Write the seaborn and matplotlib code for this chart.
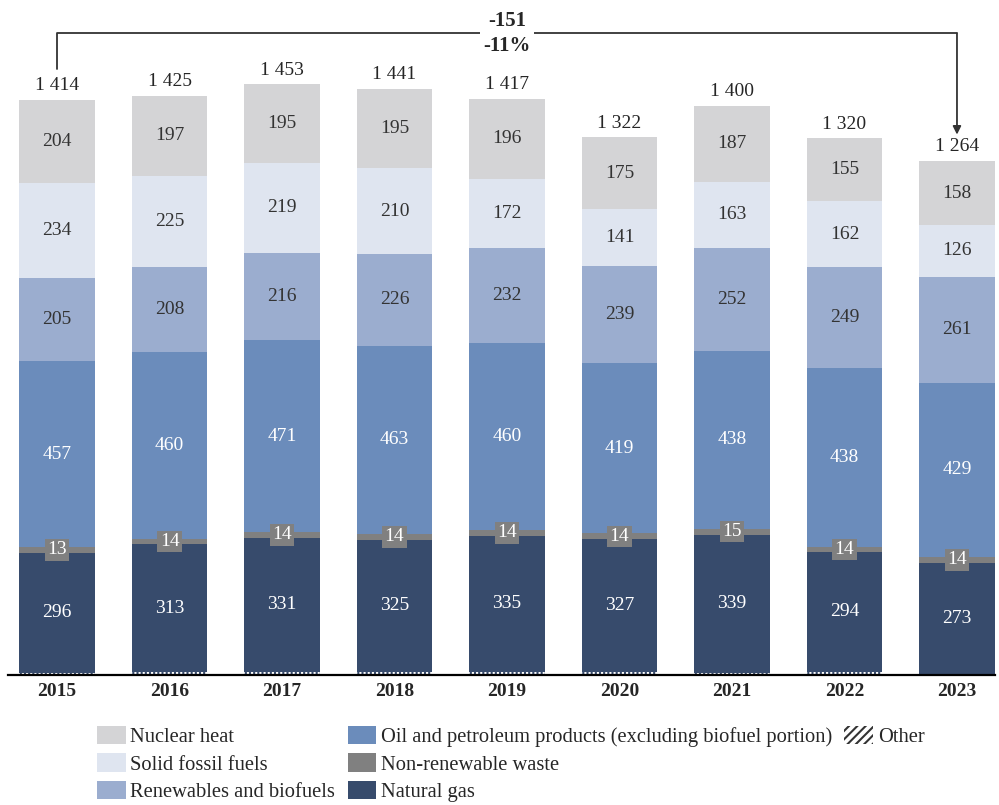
"""Stacked bars of energy use by source, 2015-2023, with seaborn."""
import matplotlib
matplotlib.use('Agg')
import matplotlib.pyplot as plt
from matplotlib.patches import Patch
import numpy as np
import pandas as pd
import seaborn as sns

# data (bottom to top of each bar)
years = ['2015', '2016', '2017', '2018', '2019', '2020', '2021', '2022', '2023']
other = [5, 8, 7, 8, 8, 7, 6, 8, 3]
natural_gas = [296, 313, 331, 325, 335, 327, 339, 294, 273]
waste = [13, 14, 14, 14, 14, 14, 15, 14, 14]
oil = [457, 460, 471, 463, 460, 419, 438, 438, 429]
renewables = [205, 208, 216, 226, 232, 239, 252, 249, 261]
solid_fossil = [234, 225, 219, 210, 172, 141, 163, 162, 126]
nuclear = [204, 197, 195, 195, 196, 175, 187, 155, 158]
totals = [1414, 1425, 1453, 1441, 1417, 1322, 1400, 1320, 1264]
change = -151
change_pct = -11

series = ['Other', 'Natural gas', 'Non-renewable waste',
          'Oil and petroleum products (excluding biofuel portion)',
          'Renewables and biofuels', 'Solid fossil fuels', 'Nuclear heat']
values = [other, natural_gas, waste, oil, renewables, solid_fossil, nuclear]
colors = ['#374b6c', '#374b6c', '#808080', '#6b8cbb', '#9badcf', '#dfe5f0', '#d4d4d6']
text_colors = [None, 'white', 'white', 'white', '#333333', '#333333', '#333333']

df = pd.DataFrame(dict(zip(series, values)), index=years)
cum = df.cumsum(axis=1)

sns.set_style('white')
plt.rcParams['font.family'] = ['Liberation Serif', 'DejaVu Serif']
plt.rcParams['hatch.linewidth'] = 1.5

fig = plt.figure(figsize=(9.99, 8.05), dpi=100)
ax = fig.add_axes([8 / 999, 130 / 805, 987 / 999, 675 / 805])

# draw cumulative bars from top down so each layer covers the one above
for i in range(len(series) - 1, -1, -1):
    name = series[i]
    kw = dict(linewidth=0)
    if name == 'Other':
        kw = dict(hatch='||||', edgecolor='white', linewidth=0)
    sns.barplot(x=years, y=cum[name].values, color=colors[i], width=0.67,
                saturation=1, ax=ax, **kw)

# segment labels
for i, name in enumerate(series):
    if name == 'Other':
        continue
    for j, yr in enumerate(years):
        v = df.loc[yr, name]
        mid = cum.loc[yr, name] - v / 2
        if name == 'Non-renewable waste':
            ax.text(j, mid, f'{v}', ha='center', va='center', fontsize=14,
                    color='white',
                    bbox=dict(boxstyle='square,pad=0.12', fc='#808080', ec='none'))
        else:
            ax.text(j, mid, f'{v}', ha='center', va='center', fontsize=14,
                    color=text_colors[i])

# totals above bars
for j, t in enumerate(totals):
    ax.annotate(f'{t:,}'.replace(',', ' '), (j, t), xytext=(0, 4),
                textcoords='offset points', ha='center', va='bottom', fontsize=14)

# change bracket from first to last year
top = 1578
ax.plot([0, 0, len(years) - 1], [totals[0] + 76, top, top], color='#333333', lw=1.3)
ax.annotate('', xy=(len(years) - 1, totals[-1] + 65), xytext=(len(years) - 1, top),
            arrowprops=dict(arrowstyle='-|>', color='#333333', lw=1.3,
                            shrinkA=0, shrinkB=0, mutation_scale=12))
ax.text((len(years) - 1) / 2, top, f'{change}\n{change_pct}%', ha='center',
        va='center', fontsize=15, fontweight='bold', linespacing=1.3,
        bbox=dict(boxstyle='square,pad=0.15', fc='white', ec='none'))

ax.set_ylim(0, 1660)
ax.set_xlim(-0.436, 8.338)
ax.set_yticks([])
ax.set_ylabel('')
ax.tick_params(axis='x', length=0, pad=6)
for lab in ax.get_xticklabels():
    lab.set_fontweight('bold')
    lab.set_fontsize(14)
for s in ['top', 'right', 'left']:
    ax.spines[s].set_visible(False)
ax.spines['bottom'].set_color('black')
ax.spines['bottom'].set_linewidth(1.6)

# legend: three columns, the last one holds only "Other"
order = [6, 5, 4, 3, 2, 1]
handles = [Patch(facecolor=colors[i], edgecolor='none', label=series[i]) for i in order]
handles.append(Patch(facecolor='white', edgecolor='#333333', linewidth=0,
                     hatch='////', label='Other'))
handles += [Patch(visible=False, label=' '), Patch(visible=False, label=' ')]
fig.legend(handles=handles, ncol=3, loc='upper left',
           bbox_to_anchor=(97 / 999, 1 - 726 / 805), frameon=False,
           fontsize=14.8, handlelength=1.4, handleheight=1.0,
           handletextpad=0.22, columnspacing=0.6, labelspacing=0.3,
           borderaxespad=0, borderpad=0)

fig.savefig('out.png', dpi=100)
